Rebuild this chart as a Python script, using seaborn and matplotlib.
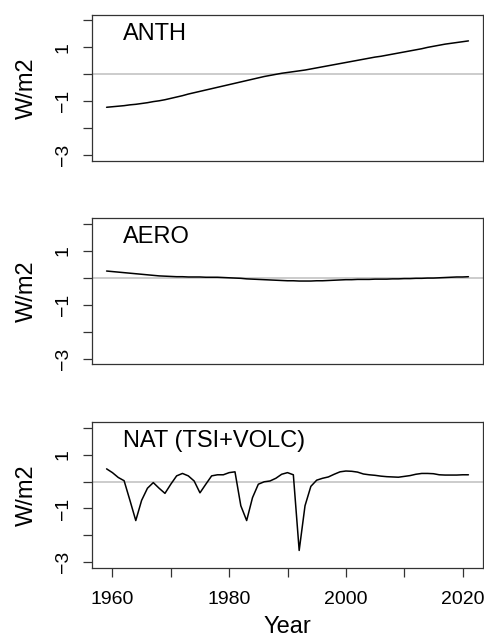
import numpy as np
import pandas as pd
import matplotlib
matplotlib.use('Agg')
import matplotlib.pyplot as plt
import seaborn as sns

# Forcing series (W/m2), one value per year 1959-2021
years = list(range(1959, 2022))

anth = [-1.22, -1.20, -1.18, -1.16, -1.13, -1.11, -1.08, -1.05, -1.01, -0.98,
        -0.94, -0.89, -0.84, -0.79, -0.73, -0.68, -0.63, -0.58, -0.53, -0.48,
        -0.43, -0.38, -0.33, -0.28, -0.23, -0.18, -0.13, -0.08, -0.04, 0.00,
        0.04, 0.07, 0.10, 0.13, 0.16, 0.20, 0.24, 0.28, 0.32, 0.36,
        0.40, 0.44, 0.48, 0.52, 0.56, 0.60, 0.64, 0.67, 0.71, 0.75,
        0.79, 0.83, 0.87, 0.91, 0.95, 1.00, 1.04, 1.08, 1.12, 1.15,
        1.18, 1.21, 1.24]

aero = [0.25, 0.23, 0.21, 0.19, 0.17, 0.15, 0.13, 0.11, 0.09, 0.07,
        0.06, 0.05, 0.04, 0.04, 0.03, 0.03, 0.03, 0.02, 0.02, 0.02,
        0.01, 0.00, -0.01, -0.02, -0.04, -0.05, -0.06, -0.07, -0.08, -0.09,
        -0.10, -0.11, -0.11, -0.12, -0.12, -0.12, -0.11, -0.11, -0.10, -0.09,
        -0.08, -0.07, -0.07, -0.06, -0.06, -0.06, -0.05, -0.05, -0.05, -0.04,
        -0.04, -0.03, -0.03, -0.02, -0.02, -0.01, -0.01, 0.00, 0.01, 0.02,
        0.03, 0.03, 0.04]

nat = [0.47, 0.33, 0.15, 0.03, -0.70, -1.45, -0.70, -0.25, -0.04, -0.25,
       -0.44, -0.10, 0.21, 0.30, 0.21, 0.02, -0.42, -0.10, 0.21, 0.25,
       0.25, 0.33, 0.36, -0.90, -1.45, -0.60, -0.10, -0.01, 0.02, 0.12,
       0.27, 0.33, 0.25, -2.56, -0.90, -0.18, 0.05, 0.12, 0.17, 0.27,
       0.36, 0.39, 0.38, 0.35, 0.28, 0.25, 0.23, 0.20, 0.18, 0.17,
       0.16, 0.19, 0.22, 0.27, 0.30, 0.30, 0.29, 0.25, 0.24, 0.24,
       0.24, 0.25, 0.25]

panel_titles = ['ANTH', 'AERO', 'NAT (TSI+VOLC)']
series = [anth, aero, nat]

y_ticks = [-3, -2, -1, 0, 1, 2]
y_ticklabels = ['\u22123', '', '\u22121', '', '1', '']
x_ticks = [1960, 1970, 1980, 1990, 2000, 2010, 2020]
x_ticklabels = ['1960', '', '1980', '', '2000', '', '2020']

sns.set_theme(style='white')
plt.rcParams['font.family'] = ['Liberation Sans', 'DejaVu Sans']

fig = plt.figure(figsize=(4.85, 6.41), dpi=100)

# axes boxes [left, bottom, width, height] in figure fraction
boxes = [[0.1897, 0.7493, 0.8062, 0.2273],
         [0.1897, 0.4317, 0.8062, 0.2277],
         [0.1897, 0.1144, 0.8062, 0.2268]]

for i, (title, vals) in enumerate(zip(panel_titles, series)):
    ax = fig.add_axes(boxes[i])
    df = pd.DataFrame({'Year': years, 'W/m2': vals})
    ax.axhline(0, color='#c8c8c8', linewidth=1.3, zorder=1)
    sns.lineplot(data=df, x='Year', y='W/m2', color='black', linewidth=1.1,
                 ax=ax, zorder=2)
    ax.set_xlim(1956.5, 2023.5)
    ax.set_ylim(-3.2, 2.2)
    for s in ax.spines.values():
        s.set_color('#333333')
        s.set_linewidth(0.9)
    ax.set_yticks(y_ticks)
    ax.set_yticklabels(y_ticklabels, rotation=90, va='center', fontsize=14)
    ax.tick_params(axis='y', left=True, length=6.5, width=0.9, color='#333333',
                   pad=8, labelcolor='black')
    ax.set_ylabel('W/m2', fontsize=17, labelpad=12, color='black')
    ax.text(0.0785, 0.83, title, transform=ax.transAxes, fontsize=17,
            va='baseline', ha='left', color='black')
    if i < 2:
        ax.set_xticks([])
        ax.set_xlabel('')
    else:
        ax.set_xticks(x_ticks)
        ax.set_xticklabels(x_ticklabels, fontsize=14)
        ax.tick_params(axis='x', bottom=True, length=6.5, width=0.9,
                       color='#333333', pad=10, labelcolor='black')
        ax.set_xlabel('Year', fontsize=17, labelpad=6, color='black')
    ax.grid(False)

fig.savefig('out.png', dpi=100, facecolor='white')
